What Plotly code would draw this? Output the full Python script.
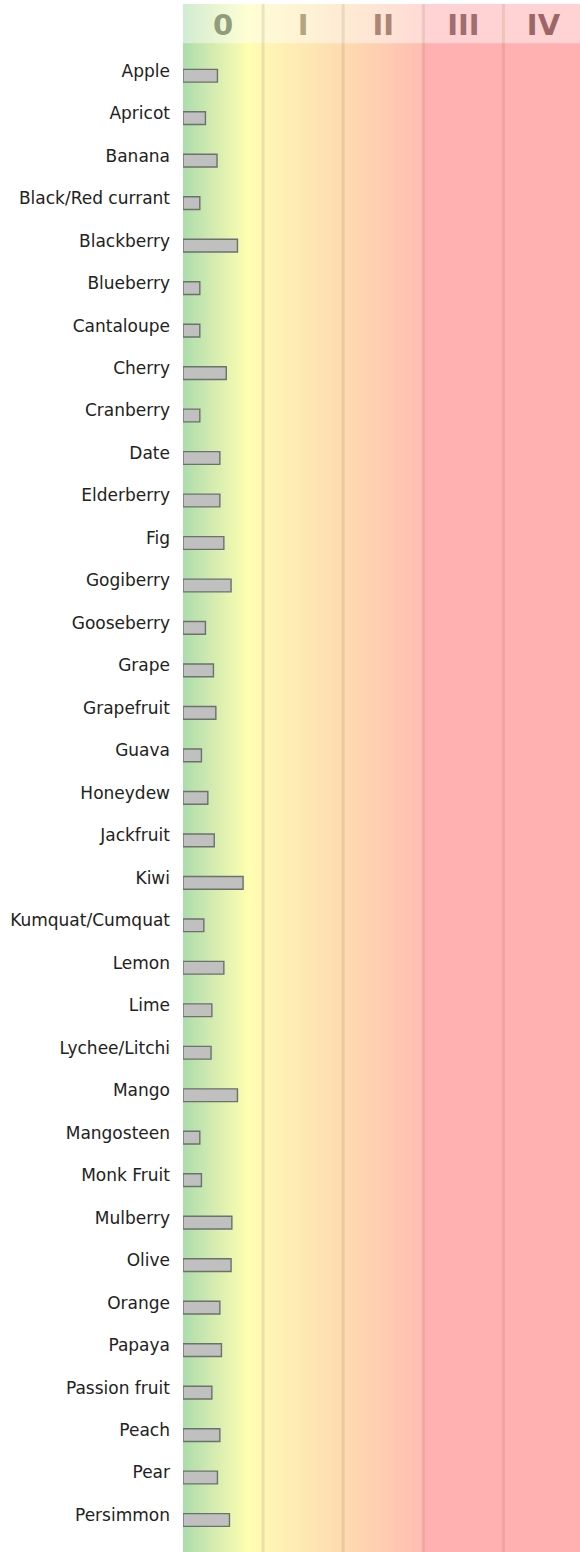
import numpy as np
import plotly.graph_objects as go

fruits = ["Apple", "Apricot", "Banana", "Black/Red currant", "Blackberry", "Blueberry",
          "Cantaloupe", "Cherry", "Cranberry", "Date", "Elderberry", "Fig", "Gogiberry",
          "Gooseberry", "Grape", "Grapefruit", "Guava", "Honeydew", "Jackfruit", "Kiwi",
          "Kumquat/Cumquat", "Lemon", "Lime", "Lychee/Litchi", "Mango", "Mangosteen",
          "Monk Fruit", "Mulberry", "Olive", "Orange", "Papaya", "Passion fruit", "Peach",
          "Pear", "Persimmon"]
values = [0.43, 0.28, 0.425, 0.21, 0.68, 0.21,
          0.21, 0.54, 0.21, 0.46, 0.46, 0.51, 0.60,
          0.28, 0.38, 0.41, 0.23, 0.31, 0.39, 0.75,
          0.26, 0.51, 0.36, 0.35, 0.68, 0.21,
          0.23, 0.61, 0.60, 0.46, 0.48, 0.36, 0.46,
          0.43, 0.58]
grade_labels = ["0", "I", "II", "III", "IV"]
grade_positions = [0.5, 1.5, 2.5, 3.5, 4.5]
grade_colors = ["#909c7c", "#b4a580", "#aa8674", "#a06e6e", "#9c6666"]

XMAX = 4.956
# background gradient stops (x position, rgb)
stops = [(0.0, (172, 220, 172)), (0.3, (205, 232, 176)), (0.82, (255, 255, 176)),
         (1.0, (255, 246, 180)), (2.0, (254, 219, 177)), (2.99, (255, 190, 178)),
         (3.01, (255, 176, 176)), (XMAX, (255, 176, 176))]

HEADER = 0.9747  # paper fraction where header band starts

fig = go.Figure()

# background gradient (heatmap on hidden numeric y axis)
ncol = 400
edges = np.linspace(0, XMAX, ncol + 1)
centers = (edges[:-1] + edges[1:]) / 2
cs = [[p / XMAX, "rgb(%d,%d,%d)" % c] for p, c in stops]
fig.add_trace(go.Heatmap(x=edges, y=[0, 1], z=[centers], colorscale=cs, zmin=0, zmax=XMAX,
                         showscale=False, zsmooth=False, hoverinfo="skip", xaxis="x", yaxis="y"))
# header lightening
fig.add_trace(go.Scatter(x=[0, XMAX, XMAX, 0, 0], y=[HEADER, HEADER, 1, 1, HEADER], fill="toself",
                         fillcolor="rgba(255,255,255,0.45)", line=dict(width=0), mode="lines",
                         hoverinfo="skip", showlegend=False, xaxis="x", yaxis="y"))
# separator lines
for b in [1, 2, 3, 4]:
    fig.add_trace(go.Scatter(x=[b, b], y=[0, 1], mode="lines",
                             line=dict(color="rgba(140,110,80,0.16)", width=3),
                             hoverinfo="skip", showlegend=False, xaxis="x", yaxis="y"))

fig.add_trace(go.Bar(x=values, y=fruits, orientation="h", width=0.3,
                     marker=dict(color="#c0c0c0", line=dict(color="#6a726a", width=1.4)),
                     xaxis="x", yaxis="y2", showlegend=False))

fig.update_layout(
    width=580, height=1552,
    margin=dict(l=183, r=0, t=4, b=0),
    paper_bgcolor="white", plot_bgcolor="white",
    showlegend=False,
    bargap=0.7,
    xaxis=dict(range=[0, XMAX], side="top", ticklabelposition="inside",
               ticklabelstandoff=8,
               tickvals=grade_positions,
               ticktext=["<span style='color:%s'>%s</span>" % (c, t) for c, t in zip(grade_colors, grade_labels)],
               ticks="", showgrid=False, zeroline=False, showline=False,
               tickfont=dict(family="DejaVu Sans", size=29, weight="bold")),
    yaxis=dict(range=[0, 1], visible=False, fixedrange=True),
    yaxis2=dict(overlaying="y", anchor="x", side="left", type="category",
                categoryorder="array", categoryarray=fruits,
                range=[34.753, -1.688], showgrid=False, zeroline=False, showline=False,
                ticks="", ticklabelstandoff=12, ticklabelshift=5,
                tickfont=dict(family="DejaVu Sans", size=17, color="#222222")),
)

fig.write_html("out.html", config={"displayModeBar": False},
               post_script="document.body.style.margin='0px';")
